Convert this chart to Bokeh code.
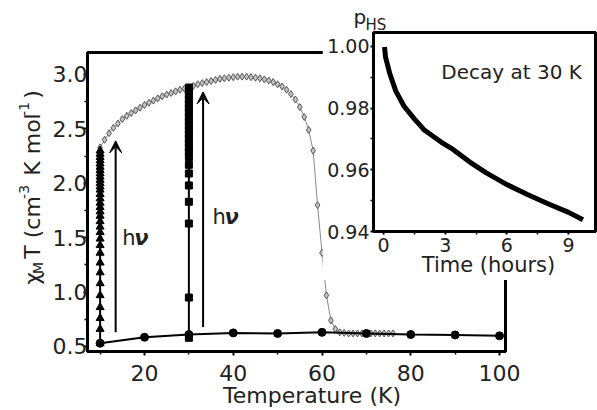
import numpy as np
from bokeh.plotting import figure
from bokeh.layouts import column
from bokeh.models import (FixedTicker, PrintfTickFormatter, Label, Arrow, VeeHead,
                          GridBox, Range1d, ColumnDataSource)
from bokeh.embed import file_html
from bokeh.resources import INLINE

# ---------------- data ----------------
# gray curve: warming after irradiation
gray_T = [10, 11, 12, 13, 14, 15, 16, 17, 18, 19, 20, 21, 22, 23, 24, 25, 26, 27, 28, 29,
          30, 31, 32, 33, 34, 35, 36, 37, 38, 39, 40, 41, 42, 43, 44, 45, 46, 47, 48, 49,
          50, 51, 52, 53, 54, 55, 56, 57, 58, 59, 60, 61, 62, 63, 64, 65, 66, 67, 68, 69,
          70, 71, 72, 73, 74, 75, 76]
gray_chi = [2.33, 2.40, 2.46, 2.51, 2.55, 2.59, 2.62, 2.645, 2.67, 2.695, 2.72, 2.74, 2.76,
            2.78, 2.80, 2.815, 2.83, 2.845, 2.86, 2.87, 2.88, 2.895, 2.91, 2.92, 2.93, 2.94,
            2.95, 2.96, 2.965, 2.97, 2.975, 2.98, 2.98, 2.98, 2.975, 2.97, 2.965, 2.955,
            2.945, 2.93, 2.91, 2.89, 2.86, 2.82, 2.77, 2.70, 2.61, 2.49, 2.30, 1.80, 1.36,
            0.97, 0.74, 0.66, 0.63, 0.625, 0.62, 0.62, 0.62, 0.62, 0.62, 0.62, 0.62, 0.62,
            0.62, 0.62, 0.62]

# black baseline (dark, before irradiation)
base_T = [10, 20, 30, 40, 50, 60, 70, 80, 90, 100]
base_chi = [0.53, 0.585, 0.61, 0.625, 0.62, 0.63, 0.62, 0.61, 0.606, 0.598]

# irradiation at 10 K (triangles)
tri_T = 10
tri_chi = [0.53, 0.66, 0.76, 0.86, 0.97, 1.08, 1.18, 1.27, 1.36, 1.43, 1.49, 1.55, 1.60,
           1.65, 1.70, 1.74, 1.78, 1.82, 1.86, 1.90, 1.94, 1.97, 2.00, 2.03, 2.06, 2.09,
           2.12, 2.15, 2.18, 2.21, 2.24, 2.27, 2.30]

# irradiation at 30 K (squares)
sq_T = 30
sq_chi = [0.58, 0.95, 1.63, 1.83, 1.98, 2.09, 2.17, 2.24, 2.29, 2.33, 2.37, 2.41, 2.45,
          2.49, 2.53, 2.57, 2.61, 2.65, 2.69, 2.73, 2.77, 2.81, 2.85, 2.88]

# arrows (h nu)
arrow_T = [13.5, 33.2]
arrow_from = [0.63, 0.68]
arrow_to = [2.39, 2.84]

# inset: decay at 30 K
decay_t = [0.05, 0.1, 0.3, 0.6, 1.0, 1.5, 2.0, 2.8, 3.4, 4.2, 5.0, 6.0, 7.0, 8.0, 9.0, 9.7]
decay_p = [0.9998, 0.9965, 0.9913, 0.9855, 0.9806, 0.9765, 0.9728, 0.969, 0.9665, 0.9625,
           0.959, 0.9552, 0.952, 0.949, 0.9462, 0.9438]

# ticks
x_ticks = [20, 40, 60, 80, 100]
x_minor = [10, 30, 50, 70, 90]
y_ticks = [0.5, 1.0, 1.5, 2.0, 2.5, 3.0]
y_minor = [0.75, 1.25, 1.75, 2.25, 2.75]
in_x_ticks = [0, 3, 6, 9]
in_x_minor = [1.5, 4.5, 7.5]
in_y_ticks = [0.94, 0.96, 0.98, 1.00]
in_y_minor = [0.95, 0.97, 0.99]

FONT = "DejaVu Sans"
TXT = "#222222"
W, H = 597, 410
BASE_FIX = 0.4  # em: lifts Label anchors so the alphabetic baseline lands on target


def style_axes(fig, label_size, tick_out, minor_out, standoff_x, standoff_y):
    for ax in (fig.xaxis[0], fig.yaxis[0]):
        ax.axis_line_width = 3
        ax.axis_line_color = "black"
        ax.major_tick_in = 0
        ax.major_tick_out = tick_out
        ax.minor_tick_in = 0
        ax.minor_tick_out = minor_out
        ax.major_tick_line_width = 2
        ax.minor_tick_line_width = 1.5
        ax.major_label_text_font = FONT
        ax.major_label_text_font_size = label_size
        ax.major_label_text_color = TXT
    fig.xaxis[0].major_label_standoff = standoff_x
    fig.yaxis[0].major_label_standoff = standoff_y
    fig.grid.visible = False
    fig.outline_line_color = "black"
    fig.outline_line_width = 3


def text_label(fig, x, y, text, fs, align="left", dx=0, dy=0, angle=0, style="normal"):
    fig.add_layout(Label(x=x, y=y, x_offset=dx, y_offset=dy + BASE_FIX * fs, text=text,
                         angle=angle, text_font=FONT, text_font_size=f"{fs}px",
                         text_font_style=style, text_color=TXT, text_align=align,
                         text_baseline="alphabetic"))


# ---------------- main figure ----------------
p = figure(width=W, height=H, x_range=Range1d(7.155, 101.35),
           y_range=Range1d(0.454, 3.202), output_backend="svg", toolbar_location=None,
           min_border_left=87, min_border_right=92, min_border_top=52,
           min_border_bottom=59, background_fill_color="white",
           border_fill_color="white")
style_axes(p, "22px", 4, 3, 9, -4)
p.xaxis.ticker = FixedTicker(ticks=x_ticks, minor_ticks=x_minor)
p.yaxis.ticker = FixedTicker(ticks=y_ticks, minor_ticks=y_minor)
p.yaxis.formatter = PrintfTickFormatter(format="%.1f")

p.line(gray_T, gray_chi, color="#8a8a8a", line_width=1)
p.scatter(gray_T, gray_chi, marker="diamond", size=7, fill_color="#c4c4c4",
          line_color="#555555", line_width=1)

p.line(base_T, base_chi, color="black", line_width=2)
p.scatter(base_T, base_chi, marker="circle", size=8, color="black")

p.line([tri_T] * len(tri_chi), tri_chi, color="black", line_width=2)
p.scatter([tri_T] * len(tri_chi), tri_chi, marker="triangle", size=8, color="black")

p.line([sq_T] * len(sq_chi), sq_chi, color="black", line_width=2)
p.scatter([sq_T] * len(sq_chi), sq_chi, marker="square", size=7, color="black")

arrow_src = ColumnDataSource(dict(x=arrow_T, y0=arrow_from, y1=arrow_to))
p.add_layout(Arrow(end=VeeHead(size=12, fill_color="black", line_color="black"),
                   x_start="x", y_start="y0", x_end="x", y_end="y1",
                   line_width=2, line_color="black", source=arrow_src))

# h nu labels
for (lx, ly) in [(15.0, 1.50), (35.3, 1.686)]:
    p.add_layout(Label(x=lx, y=ly, text="h", text_font=FONT, text_font_size="21px",
                       text_color=TXT, text_baseline="middle", text_align="left"))
    p.add_layout(Label(x=lx, y=ly, x_offset=12, text="\u03bd", text_font=FONT,
                       text_font_size="21px", text_font_style="bold italic",
                       text_color=TXT, text_baseline="middle", text_align="left"))

# ---------------- inset ----------------
q = figure(width=275, height=280, x_range=Range1d(-0.486, 10.31),
           y_range=Range1d(0.94, 1.0045), output_backend="svg", toolbar_location=None,
           min_border_left=51, min_border_right=2, min_border_top=32,
           min_border_bottom=49, background_fill_color="white",
           border_fill_color="white")
style_axes(q, "19px", 3, 3, 3, 1)
q.xaxis.ticker = FixedTicker(ticks=in_x_ticks, minor_ticks=in_x_minor)
q.yaxis.ticker = FixedTicker(ticks=in_y_ticks, minor_ticks=in_y_minor)
q.yaxis.formatter = PrintfTickFormatter(format="%.2f")

q.line(decay_t, decay_p, color="black", line_width=5)

text_label(q, 6.23, 0.98898, "Decay at 30 K", 20, align="center")

# ---------------- text layer (axis titles), page pixel coordinates ----------------
t = figure(width=W, height=H, x_range=Range1d(0, W), y_range=Range1d(H, 0),
           output_backend="svg", toolbar_location=None, min_border=0,
           x_axis_location=None, y_axis_location=None,
           background_fill_alpha=0, border_fill_alpha=0)
t.grid.visible = False
t.outline_line_color = None

text_label(t, 311.5, 403.5, "Temperature (K)", 22, align="center")
text_label(t, 488, 273, "Time (hours)", 21, align="center")
text_label(t, 353, 24, "p", 20)
text_label(t, 365, 30, "HS", 15)

ang = np.pi / 2
pieces = [
    ("\u03c7", 0, 0, 22),
    ("M", 14, 5, 14),
    ("T (cm", 26, 0, 22),
    ("-3", 89, -9, 14),
    ("K mol", 109, 0, 22),
    ("-1", 172, -9, 14),
    (")", 186, 0, 22),
]
for txt, along, across, fs in pieces:
    text_label(t, 32, 293, txt, fs, dx=across, dy=along, angle=ang)

wrap_p = column(p)
wrap_q = column(q)
wrap_q.margin = (0, 0, 0, 322)
wrap_t = column(t)

layout = GridBox(children=[(wrap_p, 0, 0), (wrap_q, 0, 0), (wrap_t, 0, 0)])

open("out.html", "w").write(file_html(layout, INLINE))
